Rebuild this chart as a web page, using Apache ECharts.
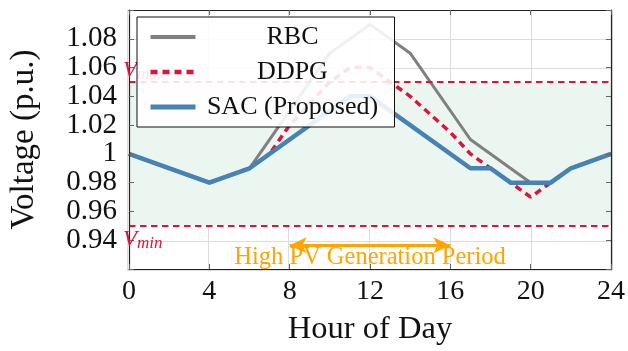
<!DOCTYPE html>
<html><head><meta charset="utf-8">
<script src="https://cdn.jsdelivr.net/npm/echarts@6/dist/echarts.min.js"></script>
<style>html,body{margin:0;padding:0;background:#fff}#c{width:628px;height:351px}</style>
</head><body><div id="c"></div>
<script>
// ---- data ----
const xTickStep = 4;
const xRange = [0, 24];
const yRange = [0.92, 1.10];
const yTickStep = 0.02;
const seriesNames = ['RBC', 'DDPG', 'SAC (Proposed)'];
const rbcHours  = [0, 4, 6, 10, 12, 14, 17, 20, 21, 22, 24];
const rbcVolt   = [1.00, 0.98, 0.99, 1.07, 1.09, 1.07, 1.01, 0.98, 0.98, 0.99, 1.00];
const ddpgHours = [0, 4, 6, 7, 8, 9, 10, 11, 12, 14, 16, 17, 18, 20, 21, 22, 24];
const ddpgVolt  = [1.00, 0.98, 0.99, 1.00, 1.02, 1.035, 1.05, 1.06, 1.06, 1.04, 1.015, 1.00, 0.99, 0.97, 0.98, 0.99, 1.00];
const sacHours  = [0, 4, 6, 11, 12, 17, 18, 19, 21, 22, 24];
const sacVolt   = [1.00, 0.98, 0.99, 1.04, 1.04, 0.99, 0.99, 0.98, 0.98, 0.99, 1.00];
const vMin = 0.95, vMax = 1.05;
const pvPeriod = [8, 16];
const pvArrowV = 0.9365;
const pvTextV = 0.928;
const pvLabel = 'High PV Generation Period';
const xName = 'Hour of Day';
const yName = 'Voltage (p.u.)';

// ---- styles ----
const FONT = '"Liberation Serif", "DejaVu Serif", serif';
const RED = '#dc143c', BLUE = '#4682b4', GRAY = '#808080', ORANGE = '#ffa500';
const pairs = (h, v) => h.map((x, i) => [x, v[i]]);
const yFmt = v => { const r = Math.round(v * 100) / 100; return (r < 0.935 || r > 1.085) ? '' : String(r); };

const gridRect = { left: 127, right: 16, top: 10, bottom: 81 };
const axisCommon = { min: xRange[0], max: xRange[1], interval: xTickStep, type: 'value' };
const yCommon = { min: yRange[0], max: yRange[1], interval: yTickStep, type: 'value' };
const tick = { show: true, inside: true, length: 5, lineStyle: { color: '#666', width: 1 } };
const line = { show: true, onZero: false, lineStyle: { color: '#222', width: 1.2 } };

const vLabelRich = {
  v: { fontFamily: FONT, fontStyle: 'italic', fontSize: 23, color: RED },
  s: { fontFamily: FONT, fontStyle: 'italic', fontSize: 17, color: RED, verticalAlign: 'bottom' }
};

const lineStyles = [
  { color: GRAY, width: 3 },
  { color: RED, width: 3.5, type: [7, 5] },
  { color: BLUE, width: 4.5 }
];
const legendLineStyles = [
  { color: GRAY, width: 4 },
  { color: RED, width: 4.5, type: [7, 5] },
  { color: BLUE, width: 5 }
];

const option = {
  animation: false,
  backgroundColor: '#fff',
  grid: [ Object.assign({}, gridRect), Object.assign({}, gridRect) ],
  xAxis: [
    Object.assign({}, axisCommon, { gridIndex: 0, position: 'bottom', z: 5,
      axisLine: line, axisTick: tick, splitLine: { show: false },
      axisLabel: { margin: 9, fontFamily: FONT, fontSize: 28, color: '#111' },
      name: xName, nameLocation: 'middle', nameGap: 44,
      nameTextStyle: { fontFamily: FONT, fontSize: 32.5, color: '#111' } }),
    Object.assign({}, axisCommon, { gridIndex: 0, position: 'top', z: 5,
      axisLine: line, axisTick: tick, splitLine: { show: false }, axisLabel: { show: false } }),
    Object.assign({}, axisCommon, { gridIndex: 1, position: 'bottom', z: 0,
      axisLine: { show: false }, axisTick: { show: false }, axisLabel: { show: false },
      splitLine: { show: true, lineStyle: { color: '#dcdcdc', width: 1 } } })
  ],
  yAxis: [
    Object.assign({}, yCommon, { gridIndex: 0, position: 'left', z: 5,
      axisLine: line, axisTick: tick, splitLine: { show: false },
      axisLabel: { margin: 12, fontFamily: FONT, fontSize: 29, color: '#111', formatter: yFmt },
      name: yName, nameLocation: 'middle', nameGap: 88,
      nameTextStyle: { fontFamily: FONT, fontSize: 33, color: '#111' } }),
    Object.assign({}, yCommon, { gridIndex: 0, position: 'right', z: 5,
      axisLine: line, axisTick: tick, splitLine: { show: false }, axisLabel: { show: false } }),
    Object.assign({}, yCommon, { gridIndex: 1, position: 'left', z: 0,
      axisLine: { show: false }, axisTick: { show: false }, axisLabel: { show: false },
      splitLine: { show: true, lineStyle: { color: '#dcdcdc', width: 1 } } })
  ],
  legend: {
    z: 10,
    data: seriesNames.map((n, i) => ({ name: n, lineStyle: legendLineStyles[i] })),
    orient: 'vertical', left: 137, top: 17,
    padding: [7, 10, 7, 11],
    itemWidth: 45, itemHeight: 14, itemGap: 9,
    itemStyle: { opacity: 0 },
    backgroundColor: 'rgba(255,255,255,0.88)',
    borderColor: '#111', borderWidth: 1, borderRadius: 0,
    formatter: '{t|{name}}',
    textStyle: { rich: { t: { width: 184, align: 'center', fontFamily: FONT, fontSize: 26, lineHeight: 26, color: '#111' } } }
  },
  series: [
    {
      name: '_limits', type: 'line', xAxisIndex: 0, yAxisIndex: 0, data: [], z: 1, silent: true,
      markArea: { silent: true, itemStyle: { color: '#eaf6ef' },
        data: [[ { yAxis: vMin }, { yAxis: vMax } ]] },
      markLine: {
        silent: true, symbol: ['none', 'none'],
        lineStyle: { color: RED, type: [6.5, 4.5], width: 2 },
        data: [
          { yAxis: vMax, label: { show: true, position: 'insideStartTop', distance: [-6, -1],
              formatter: '{v|V}{s|max}', rich: vLabelRich } },
          { yAxis: vMin, label: { show: true, position: 'insideStartBottom', distance: [-6, 3],
              formatter: '{v|V}{s|min}', rich: vLabelRich } },
          [ { coord: [pvPeriod[0], pvArrowV], symbol: 'arrow', symbolSize: [12, 17] },
            { coord: [pvPeriod[1], pvArrowV], symbol: 'arrow', symbolSize: [12, 17],
              lineStyle: { color: ORANGE, type: 'solid', width: 3 }, label: { show: false } } ]
        ]
      },
      markPoint: {
        silent: true, symbol: 'rect', symbolSize: 1, itemStyle: { color: 'rgba(0,0,0,0)' },
        data: [ { coord: [(pvPeriod[0] + pvPeriod[1]) / 2, pvTextV] } ],
        label: { show: true, position: 'inside', formatter: pvLabel,
          fontFamily: FONT, fontSize: 24.5, color: ORANGE }
      }
    },
    { name: seriesNames[0], type: 'line', data: pairs(rbcHours, rbcVolt), symbol: 'none', z: 2,
      color: GRAY, lineStyle: lineStyles[0] },
    { name: seriesNames[1], type: 'line', data: pairs(ddpgHours, ddpgVolt), symbol: 'none', z: 2,
      color: RED, lineStyle: lineStyles[1] },
    { name: seriesNames[2], type: 'line', data: pairs(sacHours, sacVolt), symbol: 'none', z: 2,
      color: BLUE, lineStyle: lineStyles[2] }
  ]
};
const chart = echarts.init(document.getElementById('c'), null, { renderer: 'canvas' });
chart.setOption(option);
</script></body></html>
